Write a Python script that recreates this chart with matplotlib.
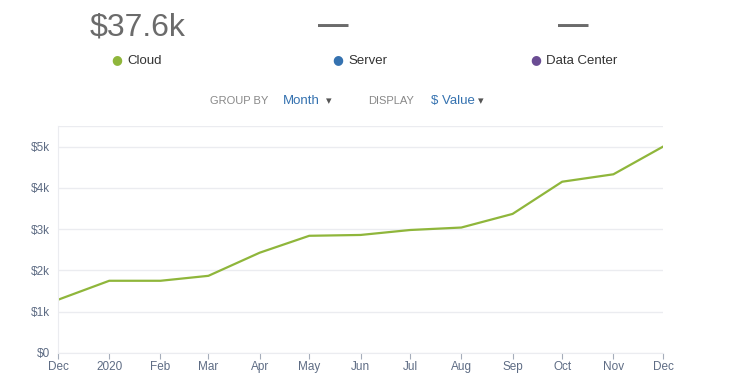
"""Monthly cloud spend line chart with summary header."""

import matplotlib

matplotlib.use("Agg")

import matplotlib.pyplot as plt
import numpy as np

plt.rcParams["font.family"] = ["Liberation Sans", "DejaVu Sans"]

months = np.array(
    [
        "2019-12-01", "2020-01-01", "2020-02-01", "2020-03-01", "2020-04-01",
        "2020-05-01", "2020-06-01", "2020-07-01", "2020-08-01", "2020-09-01",
        "2020-10-01", "2020-11-01", "2020-12-01",
    ],
    dtype="datetime64[D]",
)
month_labels = ["Dec", "2020", "Feb", "Mar", "Apr", "May", "Jun",
                "Jul", "Aug", "Sep", "Oct", "Nov", "Dec"]
cloud_values = [1290, 1750, 1750, 1870, 2430, 2840, 2860,
                2980, 3040, 3370, 4150, 4330, 5000]
y_ticks = [0, 1000, 2000, 3000, 4000, 5000]
y_tick_labels = ["$0", "$1k", "$2k", "$3k", "$4k", "$5k"]

series_names = ["Cloud", "Server", "Data Center"]
series_colors = ["#8fb63b", "#3572b0", "#6a4c93"]
series_totals = ["$37.6k", "—", "—"]

GREEN = series_colors[0]
TICK_COLOR = "#5e6c84"
GRID_COLOR = "#ebecf0"

W, H = 750, 389
fig = plt.figure(figsize=(W / 100, H / 100), dpi=100)

# header: totals and legend
total_x = [138, 333, 573]
dot_x = [117, 338, 536]
for i, name in enumerate(series_names):
    if series_totals[i].startswith("$"):
        fig.text(total_x[i] / W, 1 - 28 / H, series_totals[i], fontsize=23,
                 color="#6b6b6b", ha="center", va="center")
    else:
        fig.text(total_x[i] / W, 1 - 26 / H, series_totals[i], fontsize=22,
                 color="#6b6b6b", ha="center", va="center", fontweight="bold")
    fig.text(dot_x[i] / W, 1 - 60 / H, "●", fontsize=9,
             color=series_colors[i], ha="center", va="center",
             family=["DejaVu Sans"])
    fig.text((dot_x[i] + 10) / W, 1 - 60.5 / H, name, fontsize=9.5,
             color="#333333", ha="left", va="center")

# controls row
row_y = 1 - 101 / H
fig.text(210 / W, row_y, "GROUP BY", fontsize=8, color="#888888", va="center")
fig.text(283 / W, row_y, "Month", fontsize=9.5, color="#3572b0", va="center")
fig.text(326 / W, row_y, "▾", fontsize=8, color="#555555", va="center",
         family=["DejaVu Sans"])
fig.text(368 / W, row_y, "DISPLAY", fontsize=8, color="#888888", va="center")
fig.text(431 / W, row_y, "$ Value", fontsize=9.5, color="#3572b0", va="center")
fig.text(478 / W, row_y, "▾", fontsize=8, color="#555555", va="center",
         family=["DejaVu Sans"])

# chart
ax = fig.add_axes([58 / W, 1 - 353 / H, (663 - 58) / W, (353 - 126) / H])
ax.plot(months, cloud_values, color=GREEN, linewidth=1.6)
ax.set_xlim(months[0], months[-1])
ax.set_ylim(0, 5500)
ax.set_yticks(y_ticks)
ax.set_yticklabels(y_tick_labels)
ax.set_xticks(months)
ax.set_xticklabels(month_labels)
ax.tick_params(axis="y", length=0, pad=6, labelsize=8.5, labelcolor=TICK_COLOR)
ax.tick_params(axis="x", length=4, width=0.8, color="#a5adba", pad=2,
               labelsize=8.5, labelcolor=TICK_COLOR)
ax.grid(axis="y", color=GRID_COLOR, linewidth=1)
ax.axhline(5500, color=GRID_COLOR, linewidth=1)
for side in ("top", "right"):
    ax.spines[side].set_visible(False)
ax.spines["left"].set_color(GRID_COLOR)
ax.spines["bottom"].set_color(GRID_COLOR)
ax.set_axisbelow(True)

fig.savefig("out.png", dpi=100)
plt.close(fig)
